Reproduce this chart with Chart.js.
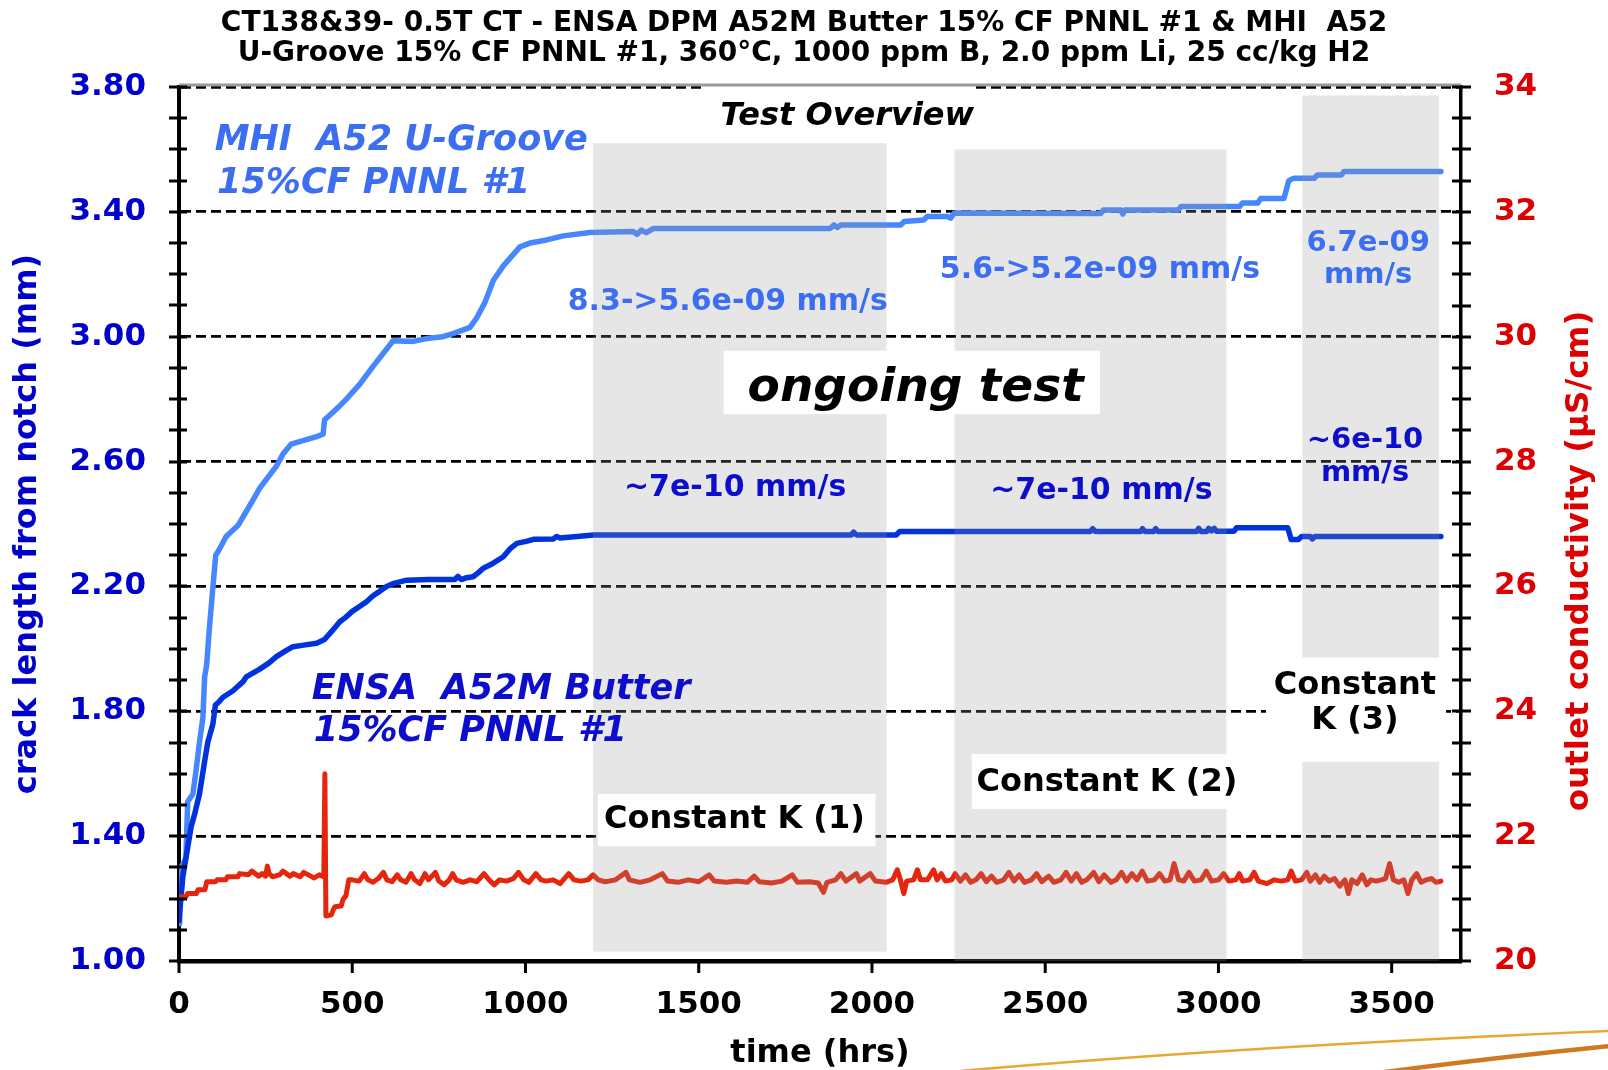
<!DOCTYPE html>
<html><head><meta charset="utf-8">
<script src="https://cdn.jsdelivr.net/npm/chart.js@4.4.1/dist/chart.umd.min.js"></script>
<style>html,body{margin:0;padding:0;background:#fff;}#wrap{width:1608px;height:1070px;}</style>
</head><body><div id="wrap"><canvas id="c" width="1608" height="1070"></canvas></div>
<script>
const titleLines = [
  'CT138&39- 0.5T CT - ENSA DPM A52M Butter 15% CF PNNL #1 & MHI  A52',
  'U-Groove 15% CF PNNL #1, 360\u00B0C, 1000 ppm B, 2.0 ppm Li, 25 cc/kg H2'
];
const xTitle = 'time (hrs)';
const leftTitle = 'crack length from notch (mm)';
const rightTitle = 'outlet conductivity (\u00B5S/cm)';

// MHI A52 U-Groove 15%CF PNNL #1 (light blue)
const mhiTime = [0,2,20,25,40,50,59,69,74,80,88,98,106,117,136,170,194,213,233,257,281,300,324,358,397,416,420,459,483,522,560,618,676,714,762,791,840,859,883,907,936,984,1013,1061,1109,1186,1311,1322,1335,1348,1369,1880,1890,1900,1910,2083,2093,2149,2159,2217,2227,2237,2660,2668,2718,2724,2730,2883,2892,3061,3069,3113,3122,3189,3203,3218,3277,3285,3355,3362,3642];
const mhiCrack = [1.12,1.29,1.33,1.51,1.535,1.617,1.70,1.78,1.91,1.95,2.07,2.20,2.30,2.32,2.36,2.395,2.44,2.476,2.515,2.55,2.585,2.624,2.656,2.667,2.68,2.688,2.733,2.773,2.80,2.848,2.905,2.987,2.985,2.994,3.00,3.01,3.03,3.06,3.11,3.18,3.227,3.288,3.30,3.31,3.323,3.334,3.337,3.328,3.342,3.333,3.347,3.347,3.358,3.350,3.358,3.358,3.369,3.374,3.385,3.385,3.380,3.396,3.395,3.406,3.406,3.393,3.406,3.406,3.417,3.417,3.428,3.428,3.443,3.443,3.50,3.508,3.508,3.518,3.518,3.529,3.529];

// ENSA A52M Butter 15%CF PNNL #1 (dark blue)
const ensaTime = [0,11,20,35,45,59,74,83,98,105,115,127,155,185,194,233,260,281,310,329,360,397,420,440,464,480,500,520,541,560,580,599,620,657,720,796,805,815,830,849,865,878,900,936,955,975,1005,1023,1080,1090,1100,1197,1940,1947,1955,2070,2080,2630,2637,2645,2775,2781,2788,2813,2819,2826,2937,2943,2950,2966,2972,2980,2988,2994,3002,3045,3052,3200,3210,3230,3240,3265,3271,3278,3642];
const ensaCrack = [1.13,1.27,1.33,1.43,1.47,1.535,1.64,1.70,1.76,1.82,1.83,1.845,1.865,1.895,1.91,1.935,1.955,1.975,1.995,2.007,2.012,2.018,2.03,2.055,2.087,2.10,2.12,2.135,2.151,2.17,2.185,2.20,2.21,2.22,2.222,2.222,2.232,2.222,2.228,2.231,2.245,2.258,2.27,2.295,2.32,2.338,2.345,2.351,2.352,2.36,2.355,2.365,2.365,2.374,2.365,2.365,2.376,2.376,2.385,2.376,2.376,2.385,2.376,2.376,2.385,2.376,2.376,2.386,2.376,2.376,2.386,2.378,2.386,2.377,2.377,2.377,2.388,2.388,2.35,2.35,2.36,2.36,2.352,2.36,2.36];

// outlet conductivity (red, right axis)
const condTime = [0,20,25,50,55,75,80,105,110,135,140,170,175,200,210,230,240,250,255,260,270,290,300,320,330,350,360,380,390,405,418,421,424,440,445,450,468,473,482,490,
  500,520,535,545,560,575,590,600,615,630,640,655,670,680,695,710,720,740,750,765,780,790,800,820,840,860,880,895,910,925,945,965,980,995,1010,1030,1045,1060,1080,1100,1125,1140,1160,1180,1195,1210,
  1230,1260,1290,1300,1330,1360,1395,1410,1440,1470,1500,1530,1545,1580,1610,1640,1660,1675,1710,1740,1770,1785,1820,1845,1860,1870,1895,1910,1925,1955,1965,1995,2010,2040,
  2060,2073,2082,2092,2100,2120,2131,2140,2160,2178,2188,2200,2212,2230,2240,
  2255,2270,2285,2300,2315,2330,2345,2360,2380,2395,2410,2425,2440,2460,2475,2490,2510,2525,2545,2560,2575,2590,2605,2620,2640,2655,2670,2690,2705,2720,2735,2750,2765,2780,2795,2815,2830,2845,2860,2872,2885,2900,2915,2930,2950,2965,2980,3000,3015,
  3030,3050,3060,3070,3090,3103,3115,3140,3160,3180,3200,3210,3222,3240,
  3255,3265,3280,3292,3305,3320,3335,3350,3365,3375,3385,3400,3415,3428,3440,3455,3470,3482,3494,3505,3520,3535,3547,3558,3572,3585,3600,3615,3628,3642];
const condValue = [21.03,21.03,21.08,21.08,21.14,21.14,21.27,21.27,21.30,21.30,21.35,21.35,21.40,21.38,21.44,21.36,21.40,21.36,21.52,21.40,21.35,21.38,21.44,21.36,21.40,21.35,21.42,21.36,21.33,21.38,21.35,23.0,20.72,20.74,20.82,20.87,20.88,20.98,21.05,21.30,
  21.30,21.28,21.40,21.30,21.26,21.32,21.42,21.30,21.27,21.38,21.30,21.26,21.40,21.30,21.24,21.40,21.30,21.42,21.28,21.22,21.30,21.40,21.30,21.26,21.30,21.27,21.40,21.30,21.22,21.30,21.28,21.32,21.42,21.30,21.26,21.40,21.30,21.28,21.30,21.24,21.40,21.30,21.28,21.30,21.38,21.30,
  21.27,21.30,21.42,21.30,21.26,21.30,21.40,21.28,21.26,21.30,21.27,21.38,21.28,21.26,21.28,21.26,21.36,21.27,21.25,21.28,21.38,21.26,21.27,21.25,21.10,21.26,21.30,21.40,21.28,21.40,21.28,21.40,21.28,21.26,
  21.30,21.46,21.30,21.08,21.28,21.30,21.46,21.30,21.30,21.46,21.30,21.40,21.28,21.30,21.40,
  21.28,21.38,21.26,21.30,21.40,21.27,21.36,21.26,21.30,21.42,21.28,21.38,21.26,21.30,21.40,21.27,21.36,21.26,21.30,21.42,21.28,21.40,21.26,21.30,21.42,21.27,21.38,21.26,21.30,21.42,21.28,21.40,21.30,21.44,21.28,21.30,21.40,21.28,21.30,21.56,21.30,21.28,21.42,21.28,21.30,21.44,21.28,21.30,21.40,
  21.28,21.30,21.40,21.28,21.30,21.42,21.28,21.24,21.30,21.28,21.30,21.44,21.28,21.30,
  21.42,21.28,21.38,21.26,21.36,21.28,21.32,21.20,21.30,21.08,21.30,21.24,21.38,21.22,21.30,21.28,21.30,21.32,21.56,21.30,21.26,21.30,21.08,21.30,21.40,21.26,21.30,21.32,21.26,21.28];

const xTickValues = [0,500,1000,1500,2000,2500,3000,3500];

// shaded test phases (hrs, crack-length units)
const phaseStart = [1195, 2238, 3242];
const phaseEnd   = [2042, 3023, 3637];
const phaseBottom = [1.03, 1.00, 1.00];
const phaseTop   = [3.62, 3.60, 3.773];

// white label boxes: [x0, x1, yLow, yHigh] in hrs / crack-length units
const whiteBoxes = [
  [1519, 2299, 3.63, 3.81],
  [1572, 2658, 2.752, 2.955],
  [1209, 2010, 1.368, 1.535],
  [2288, 3068, 1.487, 1.663],
  [3137, 3657, 1.638, 1.972]
];

const notes = [
  {t:'MHI  A52 U-Groove', x:103, y:3.628, c:'#3c6ef2', f:'italic bold 35px "DejaVu Sans"', a:'left'},
  {t:'15%CF PNNL #1', x:110, y:3.49, c:'#3c6ef2', f:'italic bold 35px "DejaVu Sans"', a:'left'},
  {t:'ENSA  A52M Butter', x:383, y:1.87, c:'#0d0dcc', f:'italic bold 35px "DejaVu Sans"', a:'left'},
  {t:'15%CF PNNL #1', x:389, y:1.735, c:'#0d0dcc', f:'italic bold 35px "DejaVu Sans"', a:'left'},
  {t:'Test Overview', x:1929, y:3.706, c:'#000', f:'italic bold 32px "DejaVu Sans"', a:'center'},
  {t:'8.3->5.6e-09 mm/s', x:1584, y:3.11, c:'#3c6ef2', f:'bold 30px "DejaVu Sans"', a:'center'},
  {t:'5.6->5.2e-09 mm/s', x:2658, y:3.213, c:'#3c6ef2', f:'bold 30px "DejaVu Sans"', a:'center'},
  {t:'6.7e-09', x:3432, y:3.298, c:'#3c6ef2', f:'bold 29px "DejaVu Sans"', a:'center'},
  {t:'mm/s', x:3432, y:3.195, c:'#3c6ef2', f:'bold 29px "DejaVu Sans"', a:'center'},
  {t:'ongoing test', x:2126, y:2.834, c:'#000', f:'italic bold 47px "DejaVu Sans"', a:'center'},
  {t:'~7e-10 mm/s', x:1605, y:2.516, c:'#0d0dcc', f:'bold 30px "DejaVu Sans"', a:'center'},
  {t:'~7e-10 mm/s', x:2662, y:2.506, c:'#0d0dcc', f:'bold 30px "DejaVu Sans"', a:'center'},
  {t:'~6e-10', x:3423, y:2.667, c:'#0d0dcc', f:'bold 29px "DejaVu Sans"', a:'center'},
  {t:'mm/s', x:3423, y:2.561, c:'#0d0dcc', f:'bold 29px "DejaVu Sans"', a:'center'},
  {t:'Constant K (1)', x:1603, y:1.452, c:'#000', f:'bold 32px "DejaVu Sans"', a:'center'},
  {t:'Constant K (2)', x:2678, y:1.571, c:'#000', f:'bold 32px "DejaVu Sans"', a:'center'},
  {t:'Constant', x:3394, y:1.882, c:'#000', f:'bold 32px "DejaVu Sans"', a:'center'},
  {t:'K (3)', x:3394, y:1.769, c:'#000', f:'bold 32px "DejaVu Sans"', a:'center'}
];

const toXY = (xs, ys) => xs.map((x, i) => ({x: x, y: ys[i]}));

const overlayPlugin = {
  id: 'overlay',
  afterDatasetsDraw(chart) {
    const {ctx, scales: {x, y}, chartArea} = chart;
    ctx.save();
    ctx.fillStyle = 'rgba(150,150,150,0.24)';
    for (let i = 0; i < phaseStart.length; i++) {
      const x0 = x.getPixelForValue(phaseStart[i]), x1 = x.getPixelForValue(phaseEnd[i]);
      const y0 = y.getPixelForValue(phaseTop[i]), y1 = y.getPixelForValue(phaseBottom[i]);
      ctx.fillRect(x0, y0, x1 - x0, y1 - y0);
    }
    ctx.fillStyle = '#ffffff';
    whiteBoxes.forEach(b => {
      const x0 = x.getPixelForValue(b[0]), x1 = x.getPixelForValue(b[1]);
      const y0 = Math.max(y.getPixelForValue(b[3]), chartArea.top - 1.5), y1 = y.getPixelForValue(b[2]);
      ctx.fillRect(x0, y0, x1 - x0, y1 - y0);
    });
    ctx.textBaseline = 'middle';
    notes.forEach(n => {
      ctx.font = n.f; ctx.fillStyle = n.c; ctx.textAlign = n.a;
      ctx.fillText(n.t, x.getPixelForValue(n.x), y.getPixelForValue(n.y));
    });
    ctx.strokeStyle = '#9a9a9a'; ctx.lineWidth = 3;
    ctx.beginPath(); ctx.moveTo(chartArea.left, chartArea.top - 2); ctx.lineTo(chartArea.right, chartArea.top - 2); ctx.stroke();
    ctx.restore();
  },
  afterDraw(chart) {
    const {ctx, scales: {x, y, y2}, chartArea} = chart;
    ctx.save();
    ctx.strokeStyle = '#000'; ctx.lineWidth = 3;
    ctx.beginPath();
    for (let k = 0; k <= 28; k++) {
      const py = Math.round(y.getPixelForValue(1 + k * 0.1));
      ctx.moveTo(chartArea.left - 10, py); ctx.lineTo(chartArea.left + 8, py);
    }
    for (let k = 0; k <= 28; k++) {
      const py = Math.round(y2.getPixelForValue(20 + k * 0.5));
      ctx.moveTo(chartArea.right - 9, py); ctx.lineTo(chartArea.right + 10, py);
    }
    xTickValues.forEach(v => {
      const px = x.getPixelForValue(v);
      ctx.moveTo(px, chartArea.bottom); ctx.lineTo(px, chartArea.bottom + 12);
    });
    ctx.stroke();
    ctx.fillStyle = '#dd0000';
    ctx.font = 'bold 32.5px "DejaVu Sans"';
    ctx.textAlign = 'center'; ctx.textBaseline = 'middle';
    ctx.translate(chart.width - 28, 561);
    ctx.rotate(-Math.PI / 2);
    ctx.fillText(rightTitle, 0, 0);
    ctx.restore();
    // decorative swoosh
    ctx.save();
    ctx.lineCap = 'round';
    ctx.strokeStyle = '#e8a832'; ctx.lineWidth = 2.5;
    ctx.beginPath(); ctx.moveTo(960, 1071); ctx.quadraticCurveTo(1250, 1046, 1610, 1031); ctx.stroke();
    ctx.strokeStyle = '#cf7a1f'; ctx.lineWidth = 4.5;
    ctx.beginPath(); ctx.moveTo(1385, 1072); ctx.quadraticCurveTo(1490, 1058, 1610, 1046); ctx.stroke();
    ctx.restore();
  }
};

Chart.defaults.font.family = '"DejaVu Sans", sans-serif';

new Chart(document.getElementById('c'), {
  type: 'line',
  data: {
    datasets: [
      {label: 'outlet conductivity', data: toXY(condTime, condValue), yAxisID: 'y2', borderColor: '#e5250c', borderWidth: 5, pointRadius: 0, tension: 0, borderJoinStyle: 'round', borderCapStyle: 'round'},
      {label: 'ENSA A52M Butter 15%CF PNNL #1', data: toXY(ensaTime, ensaCrack), yAxisID: 'y', borderColor: '#0033dd', borderWidth: 5.5, pointRadius: 0, tension: 0, borderJoinStyle: 'round', borderCapStyle: 'round'},
      {label: 'MHI A52 U-Groove 15%CF PNNL #1', data: toXY(mhiTime, mhiCrack), yAxisID: 'y', borderColor: '#4686ff', borderWidth: 5.5, pointRadius: 0, tension: 0, borderJoinStyle: 'round', borderCapStyle: 'round'}
    ]
  },
  options: {
    responsive: false,
    animation: false,
    devicePixelRatio: 1,
    layout: {padding: 0},
    plugins: {
      legend: {display: false},
      tooltip: {enabled: false},
      title: {display: true, text: titleLines, color: '#000', font: {size: 28, weight: 'bold', family: '"DejaVu Sans"', lineHeight: 1.1}, padding: {top: 8, bottom: 17.4}}
    },
    scales: {
      x: {
        type: 'linear', min: 0, max: 3700,
        afterFit: s => { s.height = 109; },
        afterBuildTicks: s => { s.ticks = xTickValues.map(v => ({value: v})); },
        ticks: {autoSkip: false, color: '#000', font: {size: 31, weight: 'bold'}, padding: 25, maxRotation: 0, callback: v => String(v)},
        grid: {display: false, drawTicks: false},
        border: {display: true, color: '#000', width: 4.5},
        title: {display: true, text: xTitle, color: '#000', font: {size: 32, weight: 'bold', lineHeight: 1.0}, padding: {top: 0, bottom: 0}}
      },
      y: {
        type: 'linear', position: 'left', min: 1, max: 3.8,
        afterFit: s => { s.width = 179; },
        ticks: {stepSize: 0.4, color: '#0000cc', font: {size: 31, weight: 'bold'}, padding: 33, callback: v => Number(v).toFixed(2)},
        grid: {display: true, drawTicks: false, color: '#000', lineWidth: 2.8},
        border: {display: true, color: '#000', width: 4, dash: [10, 5]},
        title: {display: true, text: leftTitle, color: '#0000cc', font: {size: 32, weight: 'bold', lineHeight: 1.2}, padding: {top: 8, bottom: 0}}
      },
      y2: {
        type: 'linear', position: 'right', min: 20, max: 34,
        afterFit: s => { s.width = 147; },
        ticks: {stepSize: 2, color: '#dd0000', font: {size: 31, weight: 'bold'}, padding: 33},
        grid: {display: false, drawTicks: false},
        border: {display: true, color: '#000', width: 3.5}
      }
    }
  },
  plugins: [overlayPlugin]
});
</script>
</body></html>
